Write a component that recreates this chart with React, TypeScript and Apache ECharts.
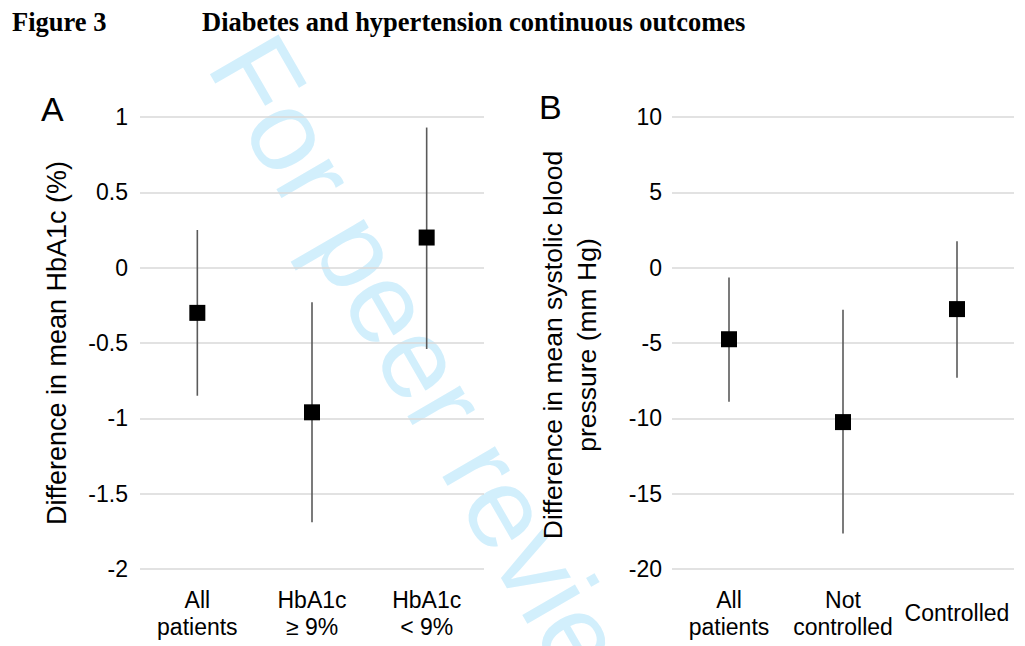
import React, { useEffect, useRef } from "react";
import * as echarts from "echarts";

// Panel A: HbA1c
const catsA = ["All\npatients", "HbA1c\n≥ 9%", "HbA1c\n< 9%"];
const meanA = [-0.3, -0.96, 0.2];
const lowA = [-0.85, -1.69, -0.54];
const highA = [0.25, -0.23, 0.93];

// Panel B: systolic blood pressure
const catsB = ["All\npatients", "Not\ncontrolled", "Controlled"];
const meanB = [-4.75, -10.25, -2.75];
const lowB = [-8.9, -17.65, -7.3];
const highB = [-0.65, -2.8, 1.75];

const SANS = "Liberation Sans, Arial, sans-serif";
const SERIF = "Liberation Serif, Times New Roman, serif";

function errRender(lows: number[], highs: number[]) {
  return (params: any, api: any) => {
    const i = api.value(0);
    const p1 = api.coord([i, lows[i]]);
    const p2 = api.coord([i, highs[i]]);
    return {
      type: "line",
      shape: { x1: p1[0], y1: p1[1], x2: p2[0], y2: p2[1] },
      style: { stroke: "#5a5a5a", lineWidth: 1.6 },
    };
  };
}

export default function App() {
  const ref = useRef<HTMLDivElement>(null);
  useEffect(() => {
    if (!ref.current) return;
    const chart = echarts.init(ref.current, undefined, { renderer: "svg" });
    const xAxisCommon = {
      type: "category" as const,
      boundaryGap: true,
      axisLine: { show: false },
      axisTick: { show: false },
      axisLabel: {
        color: "#000",
        fontFamily: SANS,
        fontSize: 23,
        lineHeight: 27,
        margin: 44,
        verticalAlign: "middle" as const,
        interval: 0,
      },
    };
    const yAxisCommon = {
      type: "value" as const,
      axisLine: { show: false },
      axisTick: { show: false },
      splitLine: { show: true, lineStyle: { color: "#d9d9d9", width: 1.5 } },
      axisLabel: { color: "#000", fontFamily: SANS, fontSize: 23 },
    };
    chart.setOption({
      animation: false,
      backgroundColor: "#fff",
      grid: [
        { left: 140, width: 344, top: 117, height: 452 },
        { left: 672, width: 342, top: 117, height: 452 },
      ],
      xAxis: [
        { ...xAxisCommon, gridIndex: 0, data: catsA },
        { ...xAxisCommon, gridIndex: 1, data: catsB },
      ],
      yAxis: [
        {
          ...yAxisCommon,
          gridIndex: 0,
          min: -2,
          max: 1,
          interval: 0.5,
          axisLabel: { ...yAxisCommon.axisLabel, margin: 12 },
        },
        {
          ...yAxisCommon,
          gridIndex: 1,
          min: -20,
          max: 10,
          interval: 5,
          axisLabel: { ...yAxisCommon.axisLabel, margin: 10 },
        },
      ],
      graphic: [
        {
          type: "text",
          z: -10,
          x: 240,
          y: 46,
          rotation: (-60 * Math.PI) / 180,
          silent: true,
          style: {
            text: "For peer review",
            fontFamily: SANS,
            fontSize: 115,
            fill: "#d2effc",
            align: "left",
            verticalAlign: "middle",
          },
        },
        {
          type: "text",
          x: 12,
          y: 35,
          style: {
            text: "Figure 3",
            fontFamily: SERIF,
            fontWeight: "bold",
            fontSize: 26.5,
            fill: "#000",
            verticalAlign: "bottom",
          },
        },
        {
          type: "text",
          x: 202,
          y: 35,
          style: {
            text: "Diabetes and hypertension continuous outcomes",
            fontFamily: SERIF,
            fontWeight: "bold",
            fontSize: 26.5,
            fill: "#000",
            verticalAlign: "bottom",
          },
        },
        {
          type: "text",
          x: 41,
          y: 126,
          style: { text: "A", fontFamily: SANS, fontSize: 34, fill: "#000", verticalAlign: "bottom" },
        },
        {
          type: "text",
          x: 539,
          y: 124,
          style: { text: "B", fontFamily: SANS, fontSize: 34, fill: "#000", verticalAlign: "bottom" },
        },
        {
          type: "text",
          x: 57,
          y: 343,
          rotation: Math.PI / 2,
          style: {
            text: "Difference in mean HbA1c (%)",
            fontFamily: SANS,
            fontSize: 27,
            fill: "#000",
            align: "center",
            verticalAlign: "middle",
          },
        },
        {
          type: "text",
          x: 570,
          y: 345,
          rotation: Math.PI / 2,
          style: {
            text: "Difference in mean systolic blood\npressure (mm Hg)",
            fontFamily: SANS,
            fontSize: 26.5,
            lineHeight: 34,
            fill: "#000",
            align: "center",
            verticalAlign: "middle",
          },
        },
      ],
      series: [
        {
          type: "custom",
          xAxisIndex: 0,
          yAxisIndex: 0,
          data: meanA.map((_, i) => [i]),
          renderItem: errRender(lowA, highA),
          z: 2,
        },
        {
          type: "scatter",
          xAxisIndex: 0,
          yAxisIndex: 0,
          data: meanA,
          symbol: "rect",
          symbolSize: 16,
          itemStyle: { color: "#000", opacity: 1 },
          z: 3,
        },
        {
          type: "custom",
          xAxisIndex: 1,
          yAxisIndex: 1,
          data: meanB.map((_, i) => [i]),
          renderItem: errRender(lowB, highB),
          z: 2,
        },
        {
          type: "scatter",
          xAxisIndex: 1,
          yAxisIndex: 1,
          data: meanB,
          symbol: "rect",
          symbolSize: 16,
          itemStyle: { color: "#000", opacity: 1 },
          z: 3,
        },
      ],
    });
    return () => chart.dispose();
  }, []);
  return (
    <div
      ref={ref}
      style={{ position: "fixed", left: 0, top: 0, width: 1025, height: 646 }}
    />
  );
}
